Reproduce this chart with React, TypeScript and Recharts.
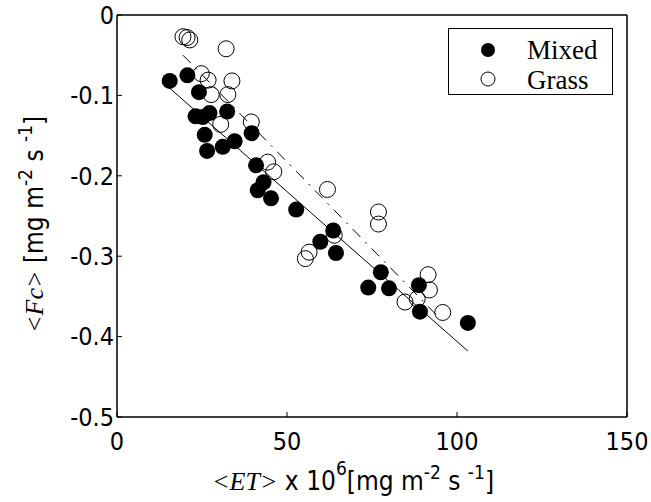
import React from "react";
import { ScatterChart, Scatter, XAxis, YAxis, Legend } from "recharts";

const X_TICKS = [0, 50, 100, 150];
const Y_TICKS = [0, -0.1, -0.2, -0.3, -0.4, -0.5];
const SERIES_NAMES = ["Mixed", "Grass"];

const MIXED_ET = [15.5, 20.7, 24.1, 23.1, 25.2, 27.2, 32.4, 25.8, 26.5, 31.1, 34.6, 39.6, 40.9, 43.1, 41.4, 45.3, 52.7, 59.8, 63.6, 64.4, 77.6, 73.9, 80.0, 88.8, 89.1, 103.2];
const MIXED_FC = [-0.082, -0.075, -0.096, -0.126, -0.127, -0.122, -0.12, -0.149, -0.169, -0.164, -0.157, -0.147, -0.187, -0.208, -0.218, -0.228, -0.242, -0.282, -0.268, -0.296, -0.32, -0.339, -0.34, -0.336, -0.369, -0.383];

const GRASS_ET = [19.4, 20.6, 21.4, 32.1, 24.8, 26.8, 33.8, 27.7, 32.6, 30.5, 39.5, 44.3, 46.1, 61.9, 63.9, 56.5, 55.4, 76.9, 76.9, 91.5, 91.9, 84.7, 88.3, 95.8];
const GRASS_FC = [-0.027, -0.028, -0.031, -0.042, -0.073, -0.081, -0.082, -0.099, -0.099, -0.136, -0.133, -0.183, -0.195, -0.217, -0.274, -0.295, -0.303, -0.245, -0.26, -0.323, -0.342, -0.357, -0.353, -0.37];

// fitted lines (end points)
const MIXED_FIT_ET = [15.5, 103.2];
const MIXED_FIT_FC = [-0.091, -0.418];
const GRASS_FIT_ET = [19.4, 95.1];
const GRASS_FIT_FC = [-0.05, -0.378];

const zip = (xs: number[], ys: number[]) => xs.map((x, i) => ({ et: x, fc: ys[i] }));

const mixed = zip(MIXED_ET, MIXED_FC);
const grass = zip(GRASS_ET, GRASS_FC);
const mixedFit = zip(MIXED_FIT_ET, MIXED_FIT_FC);
const grassFit = zip(GRASS_FIT_ET, GRASS_FIT_FC);

const SANS = "'Liberation Sans Narrow', 'DejaVu Sans Condensed', 'Liberation Sans', sans-serif";
const SERIF = "'Liberation Serif', 'DejaVu Serif', serif";

const FilledDot = (p: any) => <circle cx={p.cx} cy={p.cy} r={8} fill="#000" />;
const OpenDot = (p: any) => <circle cx={p.cx} cy={p.cy} r={8} fill="none" stroke="#000" strokeWidth={1} />;
const NoDot = () => <g />;

function XLabel(props: any) {
  const vb = props.viewBox;
  return (
    <text x={vb.x + 95} y={vb.y + 73} fontSize={26} fontFamily={SANS} fill="#000">
      <tspan fontFamily={SERIF} fontStyle="italic">{"<ET>"}</tspan>
      <tspan>{" x 10"}</tspan>
      <tspan dy={-15} fontSize={19}>6</tspan>
      <tspan dy={15}>[mg m</tspan>
      <tspan dy={-11} fontSize={19}>-2</tspan>
      <tspan dy={11}> s </tspan>
      <tspan dy={-11} fontSize={19}>-1</tspan>
      <tspan dy={11}>]</tspan>
    </text>
  );
}

function YLabel(props: any) {
  const vb = props.viewBox;
  const x = 43;
  const y = vb.y + 318;
  return (
    <text x={x} y={y} transform={`rotate(-90, ${x}, ${y})`} fontSize={26} fontFamily={SANS} fill="#000">
      <tspan fontFamily={SERIF} fontStyle="italic">{"<Fc>"}</tspan>
      <tspan>{"  [mg m"}</tspan>
      <tspan dy={-11} fontSize={19}>-2</tspan>
      <tspan dy={11}> s </tspan>
      <tspan dy={-11} fontSize={19}>-1</tspan>
      <tspan dy={11}>]</tspan>
    </text>
  );
}

function LegendBox() {
  return (
    <div
      style={{
        width: 165,
        height: 67,
        boxSizing: "border-box",
        border: "1px solid #000",
        background: "#fff",
        position: "relative",
      }}
    >
      <svg width={163} height={65} style={{ position: "absolute", left: 0, top: 0 }}>
        {SERIES_NAMES.map((name, i) => (
          <g key={name}>
            {i === 0 ? (
              <circle cx={39} cy={21 + i * 29} r={7} fill="#000" />
            ) : (
              <circle cx={39} cy={21 + i * 29} r={7} fill="none" stroke="#000" strokeWidth={1} />
            )}
            <text x={78} y={30 + i * 30} fontSize={27} fontFamily={SERIF} fill="#000">
              {name}
            </text>
          </g>
        ))}
      </svg>
    </div>
  );
}

const fmt = (v: number) => String(v);

export default function App() {
  return (
    <div style={{ position: "absolute", left: 0, top: 0, width: 651, height: 502, background: "#fff" }}>
      <ScatterChart width={651} height={502} margin={{ top: 14, right: 23, bottom: 0, left: 0 }}>
        <XAxis
          dataKey="et"
          type="number"
          domain={[0, 150]}
          ticks={X_TICKS}
          interval={0}
          tickFormatter={fmt}
          height={85}
          tickSize={-5}
          tickMargin={20}
          axisLine={{ stroke: "#000", strokeWidth: 1.5 }}
          tickLine={{ stroke: "#000" }}
          tick={{ fill: "#000", fontSize: 25, fontFamily: SANS }}
          label={{ content: XLabel }}
        />
        <XAxis
          xAxisId="top"
          orientation="top"
          dataKey="et"
          type="number"
          domain={[0, 150]}
          ticks={X_TICKS}
          interval={0}
          height={1}
          tickSize={-5}
          axisLine={{ stroke: "#000", strokeWidth: 1.5 }}
          tickLine={{ stroke: "#000" }}
          tick={false}
        />
        <YAxis
          dataKey="fc"
          type="number"
          domain={[-0.5, 0]}
          ticks={Y_TICKS}
          interval={0}
          tickFormatter={fmt}
          width={117}
          tickSize={-5}
          tickMargin={8}
          axisLine={{ stroke: "#000", strokeWidth: 1.5 }}
          tickLine={{ stroke: "#000" }}
          tick={{ fill: "#000", fontSize: 25, fontFamily: SANS }}
          label={{ content: YLabel }}
        />
        <YAxis
          yAxisId="right"
          orientation="right"
          dataKey="fc"
          type="number"
          domain={[-0.5, 0]}
          ticks={Y_TICKS}
          interval={0}
          width={1}
          tickSize={-5}
          axisLine={{ stroke: "#000", strokeWidth: 1.5 }}
          tickLine={{ stroke: "#000" }}
          tick={false}
        />
        <Scatter name="Mixed" data={mixed} shape={FilledDot} isAnimationActive={false} />
        <Scatter name="Grass" data={grass} shape={OpenDot} isAnimationActive={false} />
        <Scatter
          name="Mixed fit"
          data={mixedFit}
          shape={NoDot}
          line={{ stroke: "#000", strokeWidth: 1 }}
          isAnimationActive={false}
          legendType="none"
        />
        <Scatter
          name="Grass fit"
          data={grassFit}
          shape={NoDot}
          line={{ stroke: "#000", strokeWidth: 1, strokeDasharray: "11 7 2 7" }}
          isAnimationActive={false}
          legendType="none"
        />
        <Legend
          layout="horizontal"
          verticalAlign="middle"
          align="center"
          content={LegendBox}
          wrapperStyle={{ position: "absolute", left: 448, top: 28, width: 165, height: 67 }}
        />
      </ScatterChart>
    </div>
  );
}
